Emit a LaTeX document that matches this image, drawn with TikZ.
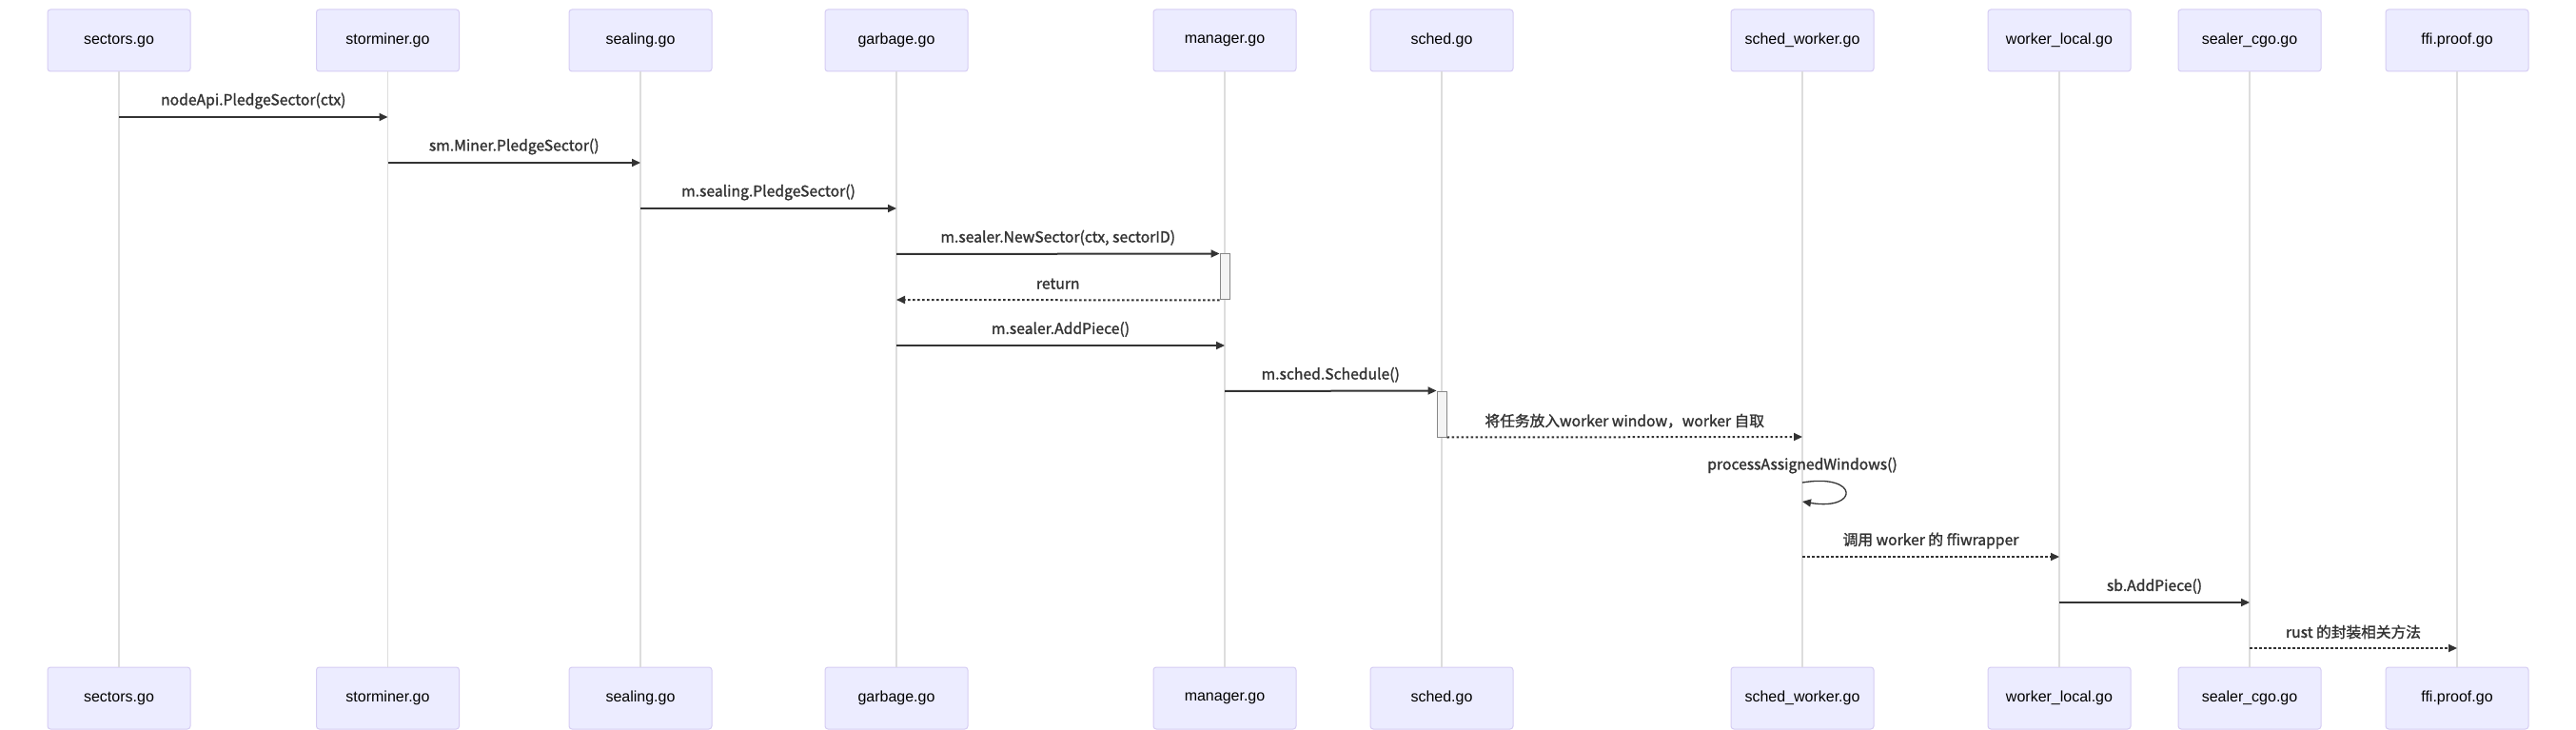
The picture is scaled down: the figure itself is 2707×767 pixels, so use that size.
\documentclass[tikz,border=0pt]{standalone}
\usepackage{fontspec}
\setmainfont{Liberation Sans}
\newfontfamily\cjk[FakeBold=1.5]{Noto Sans CJK SC}
\usetikzlibrary{arrows.meta}
\definecolor{actfill}{HTML}{ECECFF}
\definecolor{actline}{HTML}{D6CDF3}
\definecolor{lifegray}{HTML}{DDDDDD}
\definecolor{msgdark}{HTML}{333333}
\definecolor{actvfill}{HTML}{F4F4F4}
\definecolor{actvline}{HTML}{888888}
\begin{document}
\begin{tikzpicture}[x=1pt, y=-1pt,
   actor/.style={draw=actline, fill=actfill, rounded corners=3pt, line width=1pt,
     minimum width=150pt, minimum height=65pt, inner sep=0pt,
     font=\fontsize{16}{18}\selectfont},
   life/.style={draw=lifegray, line width=1.5pt},
   call/.style={draw=msgdark, line width=2pt, -{Triangle[length=9pt,width=8pt]}},
   reply/.style={call, dash pattern=on 2.5pt off 2.5pt},
   msgtxt/.style={font=\cjk\fontsize{15.7}{18}\selectfont, text=msgdark, inner sep=0pt},
   msg/.style={msgtxt, midway, yshift=17pt},
   active/.style={draw=actvline, fill=actvfill, line width=1pt, inner sep=0pt,
     minimum width=10pt, minimum height=48pt}]
\useasboundingbox (0,0) rectangle (2707,767);

% participants, top and bottom, with their lifelines
\foreach \nm/\x/\txt in {sectors/125/sectors.go, storminer/407.5/storminer.go,
   sealing/673/sealing.go, garbage/942/garbage.go, manager/1287/manager.go,
   sched/1515/sched.go, schedw/1894/sched\_worker.go, wlocal/2164/worker\_local.go,
   cgo/2364/sealer\_cgo.go, ffi/2582/ffi.proof.go}{
  \node[actor] (\nm-top) at (\x,42.5) {\txt};
  \node[actor] (\nm-bot) at (\x,733.5) {\txt};
  \draw[life] (\nm-top) -- (\nm-bot);
}

% activations
\node[active] (mgrAct)   at (manager-top |- 0,291) {};
\node[active] (schedAct) at (sched-top |- 0,435) {};

% messages
\draw[call] (sectors-top |- 0,123) -- node[msg] (l1) {nodeApi.PledgeSector(ctx)} (storminer-top |- 0,123);
\draw[call] (storminer-top |- 0,171) -- node[msg] (l2) {sm.Miner.PledgeSector()} (sealing-top |- 0,171);
\draw[call] (sealing-top |- 0,219) -- node[msg] (l3) {m.sealing.PledgeSector()} (garbage-top |- 0,219);
\draw[call] (garbage-top |- 0,267) -- node[msg] (l4) {m.sealer.NewSector(ctx, sectorID)} (mgrAct.north west);
\draw[reply] (mgrAct.south west) -- node[msg] (l5) {return} (garbage-top |- 0,315);
\draw[call] (garbage-top |- 0,363) -- node[msg] (l6) {m.sealer.AddPiece()} (manager-top |- 0,363);
\draw[call] (manager-top |- 0,411) -- node[msg] (l7) {m.sched.Schedule()} (schedAct.north west);
\draw[reply] (schedAct.south east) -- node[msg] (l8) {将任务放入worker window，worker 自取} (schedw-top |- 0,459);

% self call
\node[msgtxt] (l9) at (schedw-top |- 0,489) {processAssignedWindows()};
\draw[call, line width=1.3pt] (schedw-top |- 0,507) .. controls +(60,-10) and +(60,10) .. (schedw-top |- 0,527);

\draw[reply] (schedw-top |- 0,585) -- node[msg] (l10) {调用 worker 的 ffiwrapper} (wlocal-top |- 0,585);
\draw[call] (wlocal-top |- 0,633) -- node[msg] (l11) {sb.AddPiece()} (cgo-top |- 0,633);
\draw[reply] (cgo-top |- 0,681) -- node[msg] (l12) {rust 的封装相关方法} (ffi-top |- 0,681);
\end{tikzpicture}
\end{document}
